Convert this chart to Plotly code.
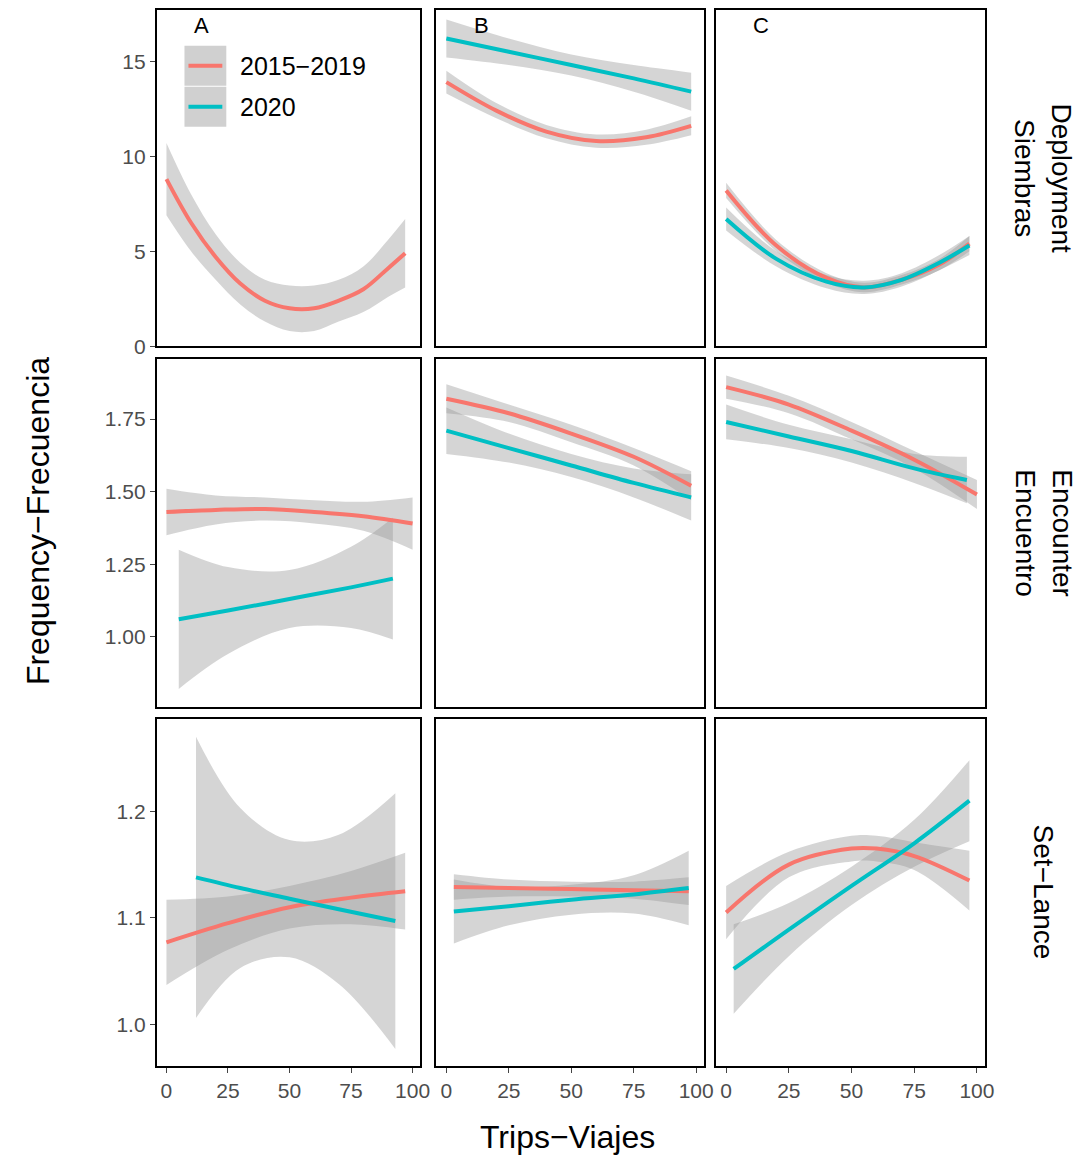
import plotly.graph_objects as go

W, H = 1089, 1160
RED, TEAL = "#F8766D", "#00BFC4"
BAND = "rgba(150,150,150,0.4)"

# (x, fit, half-width of ribbon) per panel and series
# row 1 : Deployment
a1_red_x = [0, 10, 20, 30, 40, 50, 60, 70, 80, 90, 97]
a1_red_y = [8.8, 6.5, 4.7, 3.3, 2.4, 2.0, 2.0, 2.4, 3.0, 4.1, 4.9]
a1_red_e = [1.9, 1.5, 1.2, 1.1, 1.1, 1.2, 1.2, 1.1, 1.2, 1.5, 1.8]
b1_teal_x = [0, 25, 50, 75, 98]
b1_teal_y = [16.2, 15.5, 14.8, 14.1, 13.4]
b1_teal_e = [1.0, 0.7, 0.55, 0.7, 1.0]
b1_red_x = [0, 20, 40, 60, 80, 98]
b1_red_y = [13.9, 12.4, 11.3, 10.8, 11.0, 11.6]
b1_red_e = [0.6, 0.4, 0.35, 0.35, 0.4, 0.5]
c1_red_x = [0, 20, 40, 55, 70, 85, 97]
c1_red_y = [8.2, 5.3, 3.6, 3.1, 3.5, 4.3, 5.4]
c1_red_e = [0.4, 0.3, 0.25, 0.25, 0.25, 0.3, 0.4]
c1_teal_x = [0, 20, 40, 55, 70, 85, 97]
c1_teal_y = [6.7, 4.6, 3.4, 3.1, 3.5, 4.4, 5.3]
c1_teal_e = [0.6, 0.4, 0.35, 0.35, 0.35, 0.4, 0.5]
# row 2 : Encounter
a2_red_x = [0, 20, 40, 60, 80, 100]
a2_red_y = [1.43, 1.437, 1.44, 1.43, 1.415, 1.39]
a2_red_e = [0.08, 0.05, 0.04, 0.04, 0.05, 0.09]
a2_teal_x = [5, 25, 50, 75, 92]
a2_teal_y = [1.06, 1.09, 1.13, 1.17, 1.20]
a2_teal_e = [0.24, 0.15, 0.1, 0.14, 0.21]
b2_red_x = [0, 25, 50, 75, 98]
b2_red_y = [1.82, 1.77, 1.70, 1.62, 1.52]
b2_red_e = [0.05, 0.03, 0.03, 0.03, 0.05]
b2_teal_x = [0, 25, 50, 75, 98]
b2_teal_y = [1.71, 1.65, 1.59, 1.53, 1.48]
b2_teal_e = [0.08, 0.05, 0.04, 0.05, 0.08]
c2_red_x = [0, 25, 50, 75, 100]
c2_red_y = [1.86, 1.80, 1.71, 1.61, 1.49]
c2_red_e = [0.04, 0.03, 0.03, 0.03, 0.05]
c2_teal_x = [0, 25, 50, 75, 96]
c2_teal_y = [1.74, 1.69, 1.64, 1.58, 1.54]
c2_teal_e = [0.06, 0.04, 0.04, 0.05, 0.08]
# row 3 : Set
a3_red_x = [0, 25, 50, 75, 97]
a3_red_y = [1.077, 1.095, 1.110, 1.119, 1.125]
a3_red_e = [0.04, 0.025, 0.02, 0.025, 0.036]
a3_teal_x = [12, 30, 50, 70, 93]
a3_teal_y = [1.138, 1.128, 1.118, 1.108, 1.097]
a3_teal_e = [0.132, 0.075, 0.055, 0.07, 0.12]
b3_red_x = [3, 25, 50, 75, 97]
b3_red_y = [1.129, 1.128, 1.127, 1.126, 1.125]
b3_red_e = [0.012, 0.008, 0.007, 0.008, 0.013]
b3_teal_x = [3, 25, 50, 75, 97]
b3_teal_y = [1.106, 1.111, 1.117, 1.122, 1.128]
b3_teal_e = [0.03, 0.018, 0.014, 0.018, 0.035]
c3_red_x = [0, 25, 50, 60, 75, 97]
c3_red_y = [1.105, 1.150, 1.165, 1.165, 1.158, 1.135]
c3_red_e = [0.025, 0.012, 0.012, 0.012, 0.013, 0.028]
c3_teal_x = [3, 25, 50, 75, 97]
c3_teal_y = [1.052, 1.089, 1.130, 1.170, 1.210]
c3_teal_e = [0.042, 0.025, 0.018, 0.022, 0.038]

panels = {
    (0, 0): [(a1_red_x, a1_red_y, a1_red_e, RED)],
    (0, 1): [(b1_teal_x, b1_teal_y, b1_teal_e, TEAL), (b1_red_x, b1_red_y, b1_red_e, RED)],
    (0, 2): [(c1_red_x, c1_red_y, c1_red_e, RED), (c1_teal_x, c1_teal_y, c1_teal_e, TEAL)],
    (1, 0): [(a2_red_x, a2_red_y, a2_red_e, RED), (a2_teal_x, a2_teal_y, a2_teal_e, TEAL)],
    (1, 1): [(b2_red_x, b2_red_y, b2_red_e, RED), (b2_teal_x, b2_teal_y, b2_teal_e, TEAL)],
    (1, 2): [(c2_red_x, c2_red_y, c2_red_e, RED), (c2_teal_x, c2_teal_y, c2_teal_e, TEAL)],
    (2, 0): [(a3_red_x, a3_red_y, a3_red_e, RED), (a3_teal_x, a3_teal_y, a3_teal_e, TEAL)],
    (2, 1): [(b3_red_x, b3_red_y, b3_red_e, RED), (b3_teal_x, b3_teal_y, b3_teal_e, TEAL)],
    (2, 2): [(c3_red_x, c3_red_y, c3_red_e, RED), (c3_teal_x, c3_teal_y, c3_teal_e, TEAL)],
}

# correct for page offset/scale seen in the screenshot
def px(p):
    return (p - 5.74) / 0.9952 / W

def py(p):
    return 1 - (p - 7.07) / 0.9915 / H

col_px = [(155, 420), (436, 705), (717, 987)]
row_px = [(8, 345), (358, 706), (718, 1066)]
y_ranges = [[0, 17.7], [0.759, 1.956], [0.961, 1.287]]
y_ticks = [[0, 5, 10, 15], [1.0, 1.25, 1.5, 1.75], [1.0, 1.1, 1.2]]
y_text = [["0", "5", "10", "15"], ["1.00", "1.25", "1.50", "1.75"], ["1.0", "1.1", "1.2"]]
x_ticks = [0, 25, 50, 75, 100]
row_labels = ["Deployment<br>Siembras", "Encounter<br>Encuentro", "Set−Lance"]
col_labels = ["A", "B", "C"]

fig = go.Figure()
axis_font = dict(family="Liberation Sans", size=21, color="#4d4d4d")
idx = 0
for r in range(3):
    for c in range(3):
        idx += 1
        xa, ya = f"x{idx}", f"y{idx}"
        for xs, ys, es, col in panels[(r, c)]:
            up = [y + e for y, e in zip(ys, es)]
            lo = [y - e for y, e in zip(ys, es)]
            fig.add_trace(go.Scatter(x=xs, y=up, mode="lines", line=dict(width=0, shape="spline"),
                                     xaxis=xa, yaxis=ya, showlegend=False, hoverinfo="skip"))
            fig.add_trace(go.Scatter(x=xs, y=lo, mode="lines", line=dict(width=0, shape="spline"),
                                     fill="tonexty", fillcolor=BAND,
                                     xaxis=xa, yaxis=ya, showlegend=False, hoverinfo="skip"))
        for xs, ys, es, col in panels[(r, c)]:
            fig.add_trace(go.Scatter(x=xs, y=ys, mode="lines", line=dict(color=col, width=4, shape="spline"),
                                     xaxis=xa, yaxis=ya, showlegend=False))
        sfx = "" if idx == 1 else str(idx)
        x0, x1 = col_px[c]
        y0, y1 = row_px[r]
        fig.layout["xaxis" + sfx] = dict(domain=[px(x0), px(x1)], range=[-4, 103.2], anchor=ya,
                                         showline=True, mirror=True, linecolor="black", linewidth=1.5,
                                         showgrid=False, zeroline=False, tickvals=x_ticks,
                                         ticks="outside" if r == 2 else "", showticklabels=(r == 2),
                                         tickfont=axis_font)
        fig.layout["yaxis" + sfx] = dict(domain=[py(y1), py(y0)], range=y_ranges[r], anchor=xa,
                                         showline=True, mirror=True, linecolor="black", linewidth=1.5,
                                         showgrid=False, zeroline=False, tickvals=y_ticks[r],
                                         ticktext=y_text[r], ticks="outside" if c == 0 else "",
                                         showticklabels=(c == 0), tickfont=axis_font)

def note(x, y, text, size, **kw):
    d = dict(x=px(x), y=py(y), xref="paper", yref="paper", text=text, showarrow=False,
             xanchor="center", yanchor="middle",
             font=dict(family="Liberation Sans", size=size, color="black"))
    d.update(kw)
    return d

ann = []
for c, lab in enumerate(col_labels):
    ann.append(note(col_px[c][0] + 45, 24, lab, 22))
for r, lab in enumerate(row_labels):
    ann.append(note(1046, sum(row_px[r]) / 2, lab, 28, textangle=90))
ann.append(note(568, 1137, "Trips−Viajes", 32))
ann.append(note(36, 520, "Frequency−Frecuencia", 32, textangle=-90))
# legend keys
leg = [("2015−2019", RED, 64), ("2020", TEAL, 105)]
shapes = []
for lab, col, ly in leg:
    shapes.append(dict(type="rect", xref="paper", yref="paper", x0=px(183), x1=px(225),
                       y0=py(ly + 20), y1=py(ly - 20), fillcolor="#d0d0d0", line_width=0))
    shapes.append(dict(type="line", xref="paper", yref="paper", x0=px(187), x1=px(221),
                       y0=py(ly), y1=py(ly), line=dict(color=col, width=4)))
    ann.append(note(237, ly, lab, 25, xanchor="left"))

fig.update_layout(width=W, height=H, margin=dict(l=0, r=0, t=0, b=0),
                  paper_bgcolor="white", plot_bgcolor="white", annotations=ann, shapes=shapes,
                  showlegend=False)
fig.write_html("out.html")
